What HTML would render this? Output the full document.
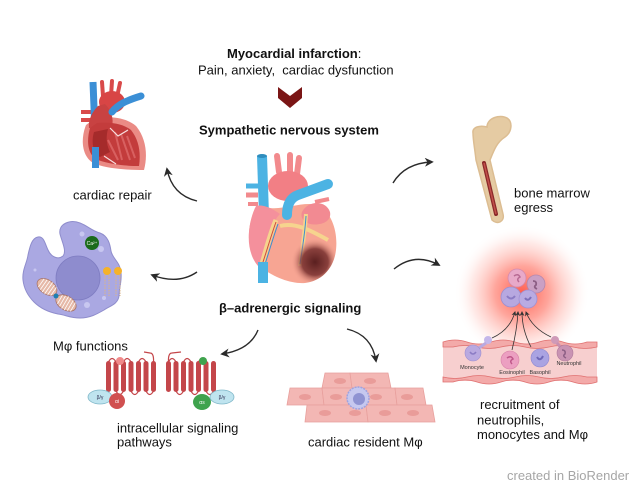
<!DOCTYPE html>
<html><head><meta charset="utf-8"><style>
html,body{margin:0;padding:0;background:#fff;}
svg{display:block;}
text{font-family:"Liberation Sans",Arial,sans-serif;font-size:13px;fill:#111;}
.b{font-weight:bold;}
</style></head><body>
<svg width="643" height="491" viewBox="0 0 643 491" xmlns="http://www.w3.org/2000/svg">
<defs>
<marker id="ah" viewBox="0 0 10 10" refX="8" refY="5" markerWidth="9" markerHeight="9" markerUnits="userSpaceOnUse" orient="auto"><path d="M0,0 L10,5 L0,10 L3,5z" fill="#2a2a2a"/></marker>
<marker id="ahs" viewBox="0 0 10 10" refX="8" refY="5" markerWidth="5" markerHeight="5" markerUnits="userSpaceOnUse" orient="auto"><path d="M0,0 L10,5 L0,10 L3,5z" fill="#333"/></marker>
<radialGradient id="glow" cx="50%" cy="50%" r="50%">
<stop offset="0" stop-color="#ff4a3a" stop-opacity="0.9"/>
<stop offset="0.4" stop-color="#ff6a5a" stop-opacity="0.6"/>
<stop offset="0.75" stop-color="#ffaaa0" stop-opacity="0.25"/>
<stop offset="1" stop-color="#ffffff" stop-opacity="0"/>
</radialGradient>
<radialGradient id="inf" cx="50%" cy="50%" r="50%">
<stop offset="0" stop-color="#5a1f1f"/>
<stop offset="0.55" stop-color="#7e3533" stop-opacity="0.9"/>
<stop offset="1" stop-color="#f7a593" stop-opacity="0"/>
</radialGradient>
<clipPath id="bodyclip"><path d="M255,208 C246,228 246,255 262,268 C275,278 292,284 305,283 C322,281 334,268 336,250 C338,232 332,214 320,206 C306,200 285,210 270,208 C264,206 258,204 255,208 Z"/></clipPath>
</defs>

<!-- Titles -->
<text x="227" y="58" class="b">Myocardial infarction<tspan font-weight="normal">:</tspan></text>
<text x="198" y="74.5" xml:space="preserve">Pain, anxiety,  cardiac dysfunction</text>
<polygon points="278,87 290,96 302,87 302,98 290,108 278,98" fill="#7a1515"/>
<text x="199" y="134.6" class="b">Sympathetic nervous system</text>

<!-- Small heart (cardiac repair) -->
<g>
<line x1="103" y1="96" x2="102" y2="82" stroke="#d94a4a" stroke-width="4" stroke-linecap="round"/>
<line x1="111" y1="96" x2="112" y2="81" stroke="#d94a4a" stroke-width="4" stroke-linecap="round"/>
<line x1="117" y1="97" x2="120" y2="83" stroke="#d94a4a" stroke-width="4" stroke-linecap="round"/>
<line x1="81" y1="112" x2="93" y2="112" stroke="#d94a4a" stroke-width="4"/>
<line x1="81" y1="120" x2="93" y2="120" stroke="#d94a4a" stroke-width="4"/>
<line x1="93" y1="82" x2="95" y2="132" stroke="#3b8fd6" stroke-width="7"/>
<ellipse cx="112" cy="102" rx="13" ry="11" fill="#d84545"/>
<path d="M86,125 C80,140 82,158 95,164 C110,169 128,170 144,170 C148,155 146,138 136,126 C126,117 108,116 95,118 Z" fill="#ea8b85"/>
<path d="M98,106 C92,112 88,120 89,128 L112,127 C114,118 111,110 105,104 Z" fill="#c84242"/>
<path d="M90,128 C86,142 88,156 98,160 C112,165 128,166 139,166 C141,153 139,140 131,130 C122,123 108,122 97,123 Z" fill="#c33c3c"/>
<path d="M94,132 C91,142 93,153 100,157 L110,152 C106,144 106,136 108,129Z" fill="#a52b2b"/>
<path d="M115,132 L122,160 M121,134 L130,160 M127,136 L135,158 M108,140 L118,160" stroke="#d86060" stroke-width="2"/>
<path d="M110,128 L118,136 L128,130 M104,156 L116,164" stroke="#f7dede" stroke-width="1.2" fill="none"/>
<path d="M112,112 C118,104 128,100 141,96" stroke="#3b8fd6" stroke-width="7" fill="none" stroke-linecap="round"/>
<rect x="92" y="147" width="7" height="21" fill="#3b8fd6"/>
</g>
<text x="73" y="199.5">cardiac repair</text>

<!-- Central heart -->
<g>
<line x1="279" y1="172" x2="277" y2="156" stroke="#f28a8d" stroke-width="6" stroke-linecap="round"/>
<line x1="290" y1="172" x2="290" y2="155" stroke="#f28a8d" stroke-width="6" stroke-linecap="round"/>
<line x1="297" y1="174" x2="299" y2="158" stroke="#f28a8d" stroke-width="6" stroke-linecap="round"/>
<ellipse cx="288" cy="186" rx="20" ry="15" fill="#f27f85"/>
<line x1="246" y1="186" x2="260" y2="186" stroke="#4cb3e3" stroke-width="5"/>
<line x1="246" y1="195" x2="258" y2="195" stroke="#f28a8d" stroke-width="5"/>
<line x1="248" y1="204" x2="258" y2="204" stroke="#f28a8d" stroke-width="4"/>
<path d="M262,156 L264,215" stroke="#4cb3e3" stroke-width="10"/>
<ellipse cx="262" cy="156" rx="5" ry="2" fill="#2f8dbd"/>
<path d="M255,208 C246,228 246,255 262,268 C275,278 292,284 305,283 C322,281 334,268 336,250 C338,232 332,214 320,206 C306,200 285,210 270,208 C264,206 258,204 255,208 Z" fill="#f7a593"/>
<path d="M256,206 C246,228 246,252 258,266 C263,262 266,256 268,248 C270,232 272,222 280,214 C272,208 262,204 256,206Z" fill="#f4909c"/>
<path d="M302,212 C308,200 326,200 330,212 C332,222 320,226 310,224 C304,222 300,218 302,212Z" fill="#f28a92"/>
<g clip-path="url(#bodyclip)">
<path d="M276,220 C270,234 266,250 262,264" stroke="#f6d48e" stroke-width="5" fill="none"/>
<path d="M280,226 C295,222 310,230 328,240" stroke="#f6d48e" stroke-width="4" fill="none"/>
<path d="M306,214 C305,232 302,250 300,266" stroke="#f6d48e" stroke-width="4" fill="none"/>
<path d="M276,222 C271,236 267,250 263,262" stroke="#d0483c" stroke-width="1" fill="none"/>
<path d="M278,224 C273,238 269,252 265,264" stroke="#3a8fd0" stroke-width="1" fill="none"/>
<path d="M306,216 C305,234 302,250 300,264" stroke="#3a8fd0" stroke-width="1" fill="none"/>
<ellipse cx="315" cy="262" rx="24" ry="24" fill="url(#inf)"/>
</g>
<path d="M287,215 C287,205 290,198 298,195 L328,184" stroke="#4cb3e3" stroke-width="10" fill="none" stroke-linecap="round"/>
<line x1="315" y1="202" x2="329" y2="199" stroke="#f28a8d" stroke-width="4"/>
<rect x="258" y="262" width="10" height="21" fill="#4cb3e3"/>
</g>

<!-- Bone -->
<path d="M473,133 C472,127 480,125 487,127 C487,118 500,114 507,118 C513,122 512,132 505,137 C497,142 494,150 490,160 L503,214 C505,222 497,225 492,220 L476,160 C475,150 473,140 473,133 Z" fill="#e5cba3" stroke="#dcbd92" stroke-width="1.5"/>
<path d="M484,163 L496,214" stroke="#8b2a2a" stroke-width="4" stroke-linecap="round"/>
<path d="M484,163 L496,214" stroke="#c2504a" stroke-width="1.5"/>
<text x="514" y="197.6">bone marrow</text>
<text x="514" y="212">egress</text>

<!-- Macrophage -->
<g>
<path d="M60,234 C58,224 70,219 80,223 C88,226 92,231 100,233 C108,236 110,244 111,251 C112,258 120,262 121,272 C122,282 119,288 119,296 C118,304 110,306 104,310 C97,314 90,318 80,318 C70,318 66,315 58,314 C48,312 40,308 34,302 C28,296 24,289 23,280 C22,270 27,263 28,255 C30,246 32,238 38,237 C44,236 45,244 48,250 C51,257 58,260 63,256 C67,251 62,242 60,234 Z" fill="#aaa8e2" stroke="#8f8dcc" stroke-width="1"/>
<circle cx="78" cy="278" r="22" fill="#8e8cce" stroke="#7f7dc2" stroke-width="0.8"/>
<circle cx="82" cy="234" r="2.5" fill="#c8c7f0"/>
<circle cx="101" cy="249" r="3" fill="#c8c7f0"/>
<circle cx="87" cy="305" r="3" fill="#c8c7f0"/>
<circle cx="104" cy="298" r="2" fill="#c8c7f0"/>
<circle cx="35" cy="270" r="1.5" fill="#c8c7f0"/>
<circle cx="92" cy="243" r="7" fill="#1b6b1b"/>
<text x="92" y="245" text-anchor="middle" style="font-size:5px;fill:#fff">Ca²⁺</text>
<g transform="rotate(35 47 287)"><ellipse cx="47" cy="287" rx="11" ry="7" fill="#e6b9a8" stroke="#a97466" stroke-width="0.8"/>
<path d="M40,282 V292 M43,281 V293 M46,280 V294 M49,280 V294 M52,281 V293 M55,282 V292" stroke="#fff" stroke-width="0.8"/></g>
<g transform="rotate(30 66 303)"><ellipse cx="66" cy="303" rx="11" ry="7" fill="#e6b9a8" stroke="#a97466" stroke-width="0.8"/>
<path d="M59,298 V308 M62,297 V309 M65,296 V310 M68,296 V310 M71,297 V309 M74,298 V308" stroke="#fff" stroke-width="0.8"/></g>
<circle cx="56" cy="296" r="2.5" fill="#1f7fb0"/>
<circle cx="107" cy="271" r="4" fill="#f5b22a"/>
<circle cx="118" cy="271" r="4" fill="#f5b22a"/>
<path d="M105,275 V296 M109,275 V296 M116,275 V296 M120,275 V296" stroke="#d9b48a" stroke-width="1" stroke-dasharray="1.5,1"/>
</g>
<text x="53" y="350.7">Mφ functions</text>

<!-- beta-adrenergic -->
<text x="219" y="312.7" class="b">β–adrenergic signaling</text>

<!-- GPCRs -->
<g fill="#c4464a">
<rect x="106" y="361" width="5" height="31" rx="2.5"/>
<rect x="113.5" y="361" width="5" height="31" rx="2.5"/>
<rect x="121" y="361" width="5" height="31" rx="2.5"/>
<rect x="128.5" y="361" width="5" height="31" rx="2.5"/>
<rect x="136" y="361" width="5" height="31" rx="2.5"/>
<rect x="143.5" y="361" width="5" height="31" rx="2.5"/>
<rect x="151" y="361" width="5" height="31" rx="2.5"/>
<rect x="166" y="361" width="5" height="31" rx="2.5"/>
<rect x="173.5" y="361" width="5" height="31" rx="2.5"/>
<rect x="181" y="361" width="5" height="31" rx="2.5"/>
<rect x="188.5" y="361" width="5" height="31" rx="2.5"/>
<rect x="196" y="361" width="5" height="31" rx="2.5"/>
<rect x="203.5" y="361" width="5" height="31" rx="2.5"/>
<rect x="211" y="361" width="5" height="31" rx="2.5"/>
</g>
<g stroke="#c4464a" stroke-width="1.2" fill="none">
<path d="M108.5,362 Q112,355 116,362 M123.5,362 Q127,355 131,362 M138.5,362 Q142,355 146,362"/>
<path d="M116,391 Q119.7,398 123.5,391 M131,391 Q134.7,398 138.5,391 M146,391 Q149.7,398 153.5,391"/>
<path d="M153.5,362 Q154,353 150,353 L144,352"/>
<path d="M168.5,362 Q172,355 176,362 M183.5,362 Q187,355 191,362 M198.5,362 Q202,355 206,362"/>
<path d="M176,391 Q179.7,398 183.5,391 M191,391 Q194.7,398 198.5,391 M206,391 Q209.7,398 213.5,391"/>
<path d="M168.5,362 Q168,353 172,353 L181,352"/>
</g>
<circle cx="120" cy="361" r="4" fill="#f08a8a"/>
<circle cx="203" cy="361" r="4" fill="#3fa34d"/>
<ellipse cx="100" cy="397" rx="12" ry="7" fill="#bfe4ef" stroke="#7fb7c8" stroke-width="0.8"/>
<text x="100" y="399" text-anchor="middle" style="font-size:5px;fill:#335">β/γ</text>
<circle cx="117" cy="401" r="8" fill="#d05050"/>
<text x="117" y="403" text-anchor="middle" style="font-size:5px;fill:#fff">αi</text>
<ellipse cx="202" cy="402" rx="9" ry="8" fill="#3fa34d"/>
<text x="202" y="404" text-anchor="middle" style="font-size:5px;fill:#fff">αs</text>
<ellipse cx="222" cy="397" rx="12" ry="7" fill="#bfe4ef" stroke="#7fb7c8" stroke-width="0.8"/>
<text x="222" y="399" text-anchor="middle" style="font-size:5px;fill:#335">β/γ</text>
<text x="117" y="432.7">intracellular signaling</text>
<text x="117" y="446.7">pathways</text>

<!-- Cardiac tissue -->
<g fill="#f3b7b4" stroke="#e8a09d" stroke-width="0.8">
<polygon points="325,373 350,373 352,388 322,388"/>
<polygon points="350,373 388,373 391,388 352,388"/>
<polygon points="290,388 322,388 324,405 287,405"/>
<polygon points="322,388 395,388 397,405 324,405"/>
<polygon points="395,388 423,388 426,405 397,405"/>
<polygon points="307,405 366,405 368,422 305,422"/>
<polygon points="366,405 432,405 435,422 368,422"/>
</g>
<g fill="#e99c99">
<ellipse cx="340" cy="381" rx="6" ry="3"/><ellipse cx="370" cy="381" rx="6" ry="3"/>
<ellipse cx="305" cy="397" rx="6" ry="3"/><ellipse cx="336" cy="397" rx="6" ry="3"/><ellipse cx="376" cy="397" rx="6" ry="3"/><ellipse cx="407" cy="397" rx="6" ry="3"/>
<ellipse cx="325" cy="413" rx="6" ry="3"/><ellipse cx="355" cy="413" rx="6" ry="3"/><ellipse cx="385" cy="413" rx="6" ry="3"/><ellipse cx="413" cy="413" rx="6" ry="3"/>
</g>
<circle cx="358" cy="398" r="11" fill="#c6c8ef" stroke="#9ea3e0" stroke-width="1.5" stroke-dasharray="2,1"/>
<circle cx="359" cy="399" r="6" fill="#8f93d2"/>
<text x="308" y="446.7">cardiac resident Mφ</text>

<!-- Recruitment -->
<circle cx="522" cy="293" r="68" fill="url(#glow)"/>
<circle cx="517" cy="278" r="9" fill="#e8a9c9" stroke="#d48aae" stroke-width="0.8"/>
<path d="M514,276 q4,-3 6,1 q-4,2 -1,5" stroke="#b86a94" stroke-width="1.5" fill="none"/>
<circle cx="536" cy="284" r="9" fill="#caa0c4" stroke="#b487ad" stroke-width="0.8"/>
<path d="M533,281 q4,0 3,4 q-3,2 1,4" stroke="#8d5f85" stroke-width="1.8" fill="none"/>
<circle cx="511" cy="297" r="10" fill="#b7a8e0" stroke="#9d8fd0" stroke-width="0.8"/>
<path d="M507,296 q4,5 8,0" stroke="#8b7cc4" stroke-width="2" fill="none"/>
<circle cx="528" cy="299" r="9" fill="#b9abe2" stroke="#a090d2" stroke-width="0.8"/>
<path d="M525,298 q3,4 6,-1" stroke="#7e70ba" stroke-width="2" fill="none"/>
<!-- vessel -->
<rect x="443" y="344" width="154" height="37" fill="#f7cfcf"/>
<path d="M443,342 Q455,338 467,342 T491,342 T515,342 T539,342 T563,342 T587,342 L597,342 L597,347 Q585,350 573,347 T549,347 T525,347 T501,347 T477,347 T453,347 L443,347Z" fill="#f3aaa9" stroke="#e07070" stroke-width="0.8"/>
<path d="M443,377 Q455,380 467,377 T491,377 T515,377 T539,377 T563,377 T587,377 L597,377 L597,382 Q585,386 573,382 T549,382 T525,382 T501,382 T477,382 T453,382 L443,382Z" fill="#f3aaa9" stroke="#e07070" stroke-width="0.8"/>
<circle cx="488" cy="340" r="4" fill="#c4b7ea"/>
<path d="M486,343 L476,350" stroke="#b9a9e0" stroke-width="3"/>
<circle cx="473" cy="353" r="8" fill="#b9a9e0" stroke="#9d8fd0" stroke-width="0.6"/>
<path d="M470,352 q3,4 6,0" stroke="#8b7cc4" stroke-width="1.5" fill="none"/>
<circle cx="510" cy="360" r="9" fill="#ec9fc1" stroke="#d883a8" stroke-width="0.6"/>
<path d="M507,358 q4,-3 6,1 q-4,2 -1,5" stroke="#c0588a" stroke-width="1.5" fill="none"/>
<circle cx="540" cy="358" r="9" fill="#aaa3e2" stroke="#8f88d0" stroke-width="0.6"/>
<path d="M537,357 q3,5 6,-1" stroke="#6f68b8" stroke-width="2" fill="none"/>
<circle cx="555" cy="340" r="4" fill="#cf9ab8"/>
<path d="M557,343 L563,350" stroke="#c890b0" stroke-width="3"/>
<circle cx="565" cy="353" r="8" fill="#c993b3" stroke="#b07a9a" stroke-width="0.6"/>
<path d="M562,350 q4,0 3,4 q-3,2 1,4" stroke="#8d5f85" stroke-width="1.5" fill="none"/>
<text x="472" y="369" text-anchor="middle" style="font-size:5.5px;fill:#333">Monocyte</text>
<text x="512" y="374" text-anchor="middle" style="font-size:5.5px;fill:#333">Eosinophil</text>
<text x="540" y="374" text-anchor="middle" style="font-size:5.5px;fill:#333">Basophil</text>
<text x="569" y="365" text-anchor="middle" style="font-size:5.5px;fill:#333">Neutrophil</text>
<g stroke="#333" stroke-width="0.8" fill="none">
<path d="M492,338 Q510,330 515,312" marker-end="url(#ahs)"/>
<path d="M512,350 Q517,330 518,312" marker-end="url(#ahs)"/>
<path d="M531,347 Q522,330 522,312" marker-end="url(#ahs)"/>
<path d="M551,337 Q532,328 526,312" marker-end="url(#ahs)"/>
</g>
<text x="480" y="409">recruitment of</text>
<text x="477" y="424.3">neutrophils,</text>
<text x="477" y="439">monocytes and Mφ</text>

<!-- Arrows -->
<g stroke="#2a2a2a" stroke-width="1.4" fill="none">
<path d="M197,201 Q172,195 167,169" marker-end="url(#ah)"/>
<path d="M393,183 Q405,163 432,162" marker-end="url(#ah)"/>
<path d="M197,272 Q178,285 152,275" marker-end="url(#ah)"/>
<path d="M258,330 Q250,350 222,354" marker-end="url(#ah)"/>
<path d="M394,269 Q415,252 439,265" marker-end="url(#ah)"/>
<path d="M347,329 Q372,335 376,361" marker-end="url(#ah)"/>
</g>

<text x="507" y="480" style="fill:#a6a6a6">created in BioRender</text>
</svg>
</body></html>
